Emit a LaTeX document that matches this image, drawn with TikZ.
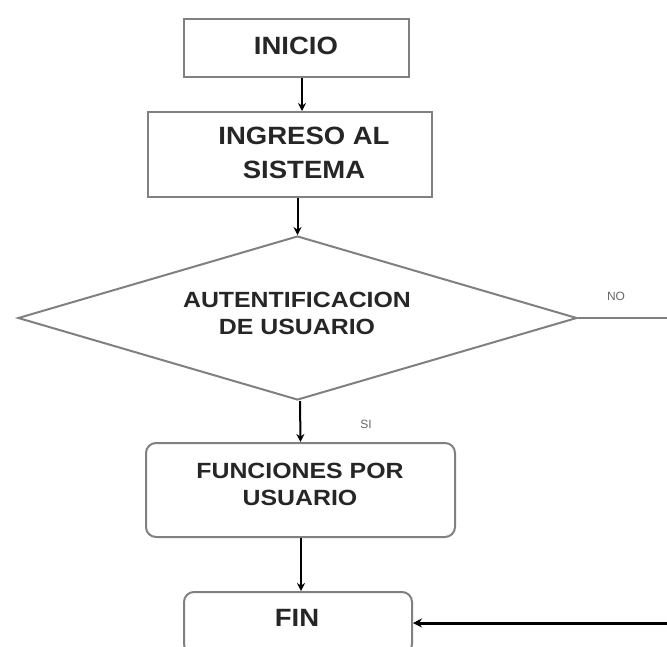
\documentclass[tikz,border=0pt]{standalone}
\usepackage{fontspec}
\setmainfont{Liberation Sans}
\newfontfamily\widesans[FakeStretch=1.10]{Liberation Sans}
\newfontfamily\widersans[FakeStretch=1.13]{Liberation Sans}
\usetikzlibrary{shapes.geometric,arrows.meta}
\begin{document}
\begin{tikzpicture}[x=1pt,y=-1pt,
  boxline/.style={draw=black!50,line width=2pt},
  bigtext/.style={align=center,text=black!85,
    font=\widesans\fontsize{25}{34}\selectfont\bfseries},
  smalltext/.style={align=center,text=black!85,
    font=\widersans\fontsize{22}{27}\selectfont\bfseries},
  procbox/.style={boxline,rectangle,inner sep=0pt},
  roundbox/.style={procbox,rounded corners=10pt},
  decision/.style={boxline,diamond,inner sep=0pt},
  arr/.style={line width=2pt,-{Stealth[length=8pt,width=8pt]}},
  thickarr/.style={line width=3pt,-{Stealth[length=9pt,width=9pt]}},
  lbl/.style={font=\fontsize{12}{14}\selectfont,text=black!60}]
\useasboundingbox (0,0) rectangle (667,646);

% boxes
\node[procbox,minimum width=225pt,minimum height=58pt] (inicio) at (296.5,48) {};
\node[procbox,minimum width=284pt,minimum height=85pt] (ingreso) at (290,154.5) {};
\node[decision,minimum width=559pt,minimum height=164pt,aspect=3.4] (auth) at (297.5,318) {};
\node[roundbox,minimum width=309pt,minimum height=94pt] (func) at (300.5,490) {};
\node[roundbox,minimum width=228pt,minimum height=62pt] (fin) at (298,623) {};

% box texts
\node[bigtext] (inicioTxt) at (296,46) {INICIO};
\node[bigtext] (ingresoTxt) at (304,153) {INGRESO AL\\SISTEMA};
\node[smalltext] (authTxt) at (297,313) {AUTENTIFICACION\\DE USUARIO};
\node[smalltext] (funcTxt) at (300,484) {FUNCIONES POR\\USUARIO};
\node[bigtext] (finTxt) at (297,618) {FIN};

% branch labels
\node[lbl] (no) at (616,296) {NO};
\node[lbl] (si) at (366,424) {SI};

\coordinate (noend) at (667,318);
\coordinate (finin) at (667,623);

% connectors
\draw[arr] ([xshift=5.5pt]inicio.south) -- ([xshift=12pt]ingreso.north);
\draw[arr] (ingreso.south -| auth.north) -- (auth.north);
\draw[arr] ([xshift=2.5pt]auth.south) -- (func.north);
\draw[arr] ([xshift=0.5pt]func.south) -- ([xshift=3pt]fin.north);
\draw[black!50,line width=2pt] (auth.east) -- (noend);
\draw[thickarr] (finin) -- (fin.east);
\end{tikzpicture}
\end{document}
